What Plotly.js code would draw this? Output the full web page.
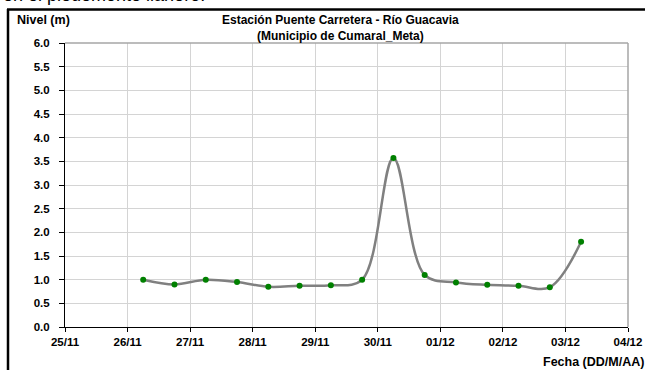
<!DOCTYPE html>
<html>
<head>
<meta charset="utf-8">
<script src="https://cdn.plot.ly/plotly-3.0.1.min.js"></script>
<style>
html,body{margin:0;padding:0;width:645px;height:370px;overflow:hidden;background:#fff;position:relative;}
#cap{position:absolute;left:3px;top:-15px;font-family:"Liberation Sans",Arial,sans-serif;font-size:18px;color:#000;white-space:nowrap;}
#chart{position:absolute;left:0;top:0;width:645px;height:370px;}
</style>
</head>
<body>
<div id="cap">en el piedemonte llanero.</div>
<div id="chart"></div>
<script>
// Data
const fechas = [
  '2014-11-26 06:00','2014-11-26 18:00','2014-11-27 06:00','2014-11-27 18:00',
  '2014-11-28 06:00','2014-11-28 18:00','2014-11-29 06:00','2014-11-29 18:00',
  '2014-11-30 06:00','2014-11-30 18:00','2014-12-01 06:00','2014-12-01 18:00',
  '2014-12-02 06:00','2014-12-02 18:00','2014-12-03 06:00'
];
const nivel = [1.0, 0.9, 1.0, 0.95, 0.85, 0.87, 0.88, 1.0, 3.57, 1.1, 0.94, 0.89, 0.87, 0.84, 1.8];
const xRange = ['2014-11-25', '2014-12-04'];
const yTicks = [0, 0.5, 1, 1.5, 2, 2.5, 3, 3.5, 4, 4.5, 5, 5.5, 6];
const titulo = 'Estación Puente Carretera - Río Guacavia<br>(Municipio de Cumaral_Meta)';
const yLabel = 'Nivel (m)';
const xLabel = 'Fecha (DD/M/AA)';

const FONT = '"Liberation Sans", Arial, sans-serif';
const L = 65, R = 17, T = 43, B = 43;
const W = 645, H = 370;
const pw = W - L - R, ph = H - T - B;
const px = x => (x - L) / pw;
const py = y => (H - B - y) / ph;

const traces = [
  {
    x: fechas, y: nivel, type: 'scatter', mode: 'lines',
    line: {shape: 'spline', smoothing: 1, color: '#808080', width: 2.5},
    hoverinfo: 'skip', showlegend: false
  },
  {
    x: fechas, y: nivel, type: 'scatter', mode: 'markers',
    marker: {color: '#008000', size: 6},
    showlegend: false
  }
];

const layout = {
  width: W, height: H,
  margin: {l: L, r: R, t: T, b: B, pad: 0},
  paper_bgcolor: 'rgba(0,0,0,0)',
  plot_bgcolor: '#ffffff',
  font: {family: FONT, color: '#000'},
  showlegend: false,
  xaxis: {
    type: 'date', range: xRange, dtick: 86400000, tick0: '2014-11-25',
    tickformat: '%d/%m', showgrid: true, gridcolor: '#d4d4d4', gridwidth: 1,
    showline: true, linecolor: '#000', linewidth: 1,
    ticks: 'outside', ticklen: 4, tickcolor: '#000',
    tickfont: {family: FONT, size: 11.5, color: '#000', weight: 'bold'},
    zeroline: false, fixedrange: true
  },
  yaxis: {
    range: [0, 6], tickvals: yTicks, tickformat: '.1f',
    showgrid: true, gridcolor: '#d4d4d4', gridwidth: 1,
    showline: true, linecolor: '#000', linewidth: 1,
    ticks: 'outside', ticklen: 5, tickcolor: '#000', ticklabelstandoff: 7,
    tickfont: {family: FONT, size: 11.5, color: '#000', weight: 'bold'},
    zeroline: false, fixedrange: true
  },
  shapes: [
    {type: 'line', xref: 'paper', yref: 'paper', x0: 0, x1: 1, y0: 1, y1: 1,
     line: {color: '#a6a6a6', width: 1.5}, layer: 'above'},
    {type: 'line', xref: 'paper', yref: 'paper', x0: 1, x1: 1, y0: 0, y1: 1,
     line: {color: '#a6a6a6', width: 1.5}, layer: 'above'},
    {type: 'line', xref: 'paper', yref: 'paper', x0: px(8), x1: px(8), y0: py(9), y1: py(375),
     line: {color: '#000', width: 2.5}},
    {type: 'line', xref: 'paper', yref: 'paper', x0: px(7), x1: px(650), y0: py(9.5), y1: py(9.5),
     line: {color: '#000', width: 2.5}}
  ],
  annotations: [
    {text: '<b>' + titulo + '</b>', xref: 'paper', yref: 'paper',
     x: px(340), y: py(11), xanchor: 'center', yanchor: 'top', showarrow: false,
     font: {family: FONT, size: 12, color: '#000'}, align: 'center'},
    {text: '<b>' + yLabel + '</b>', xref: 'paper', yref: 'paper',
     x: px(15), y: py(20), xanchor: 'left', yanchor: 'middle', showarrow: false,
     font: {family: FONT, size: 12.5, color: '#000'}},
    {text: '<b>' + xLabel + '</b>', xref: 'paper', yref: 'paper',
     x: px(541), y: py(362), xanchor: 'left', yanchor: 'middle', showarrow: false,
     font: {family: FONT, size: 12.5, color: '#000'}}
  ]
};

Plotly.newPlot('chart', traces, layout, {displayModeBar: false, staticPlot: true});
</script>
</body>
</html>
